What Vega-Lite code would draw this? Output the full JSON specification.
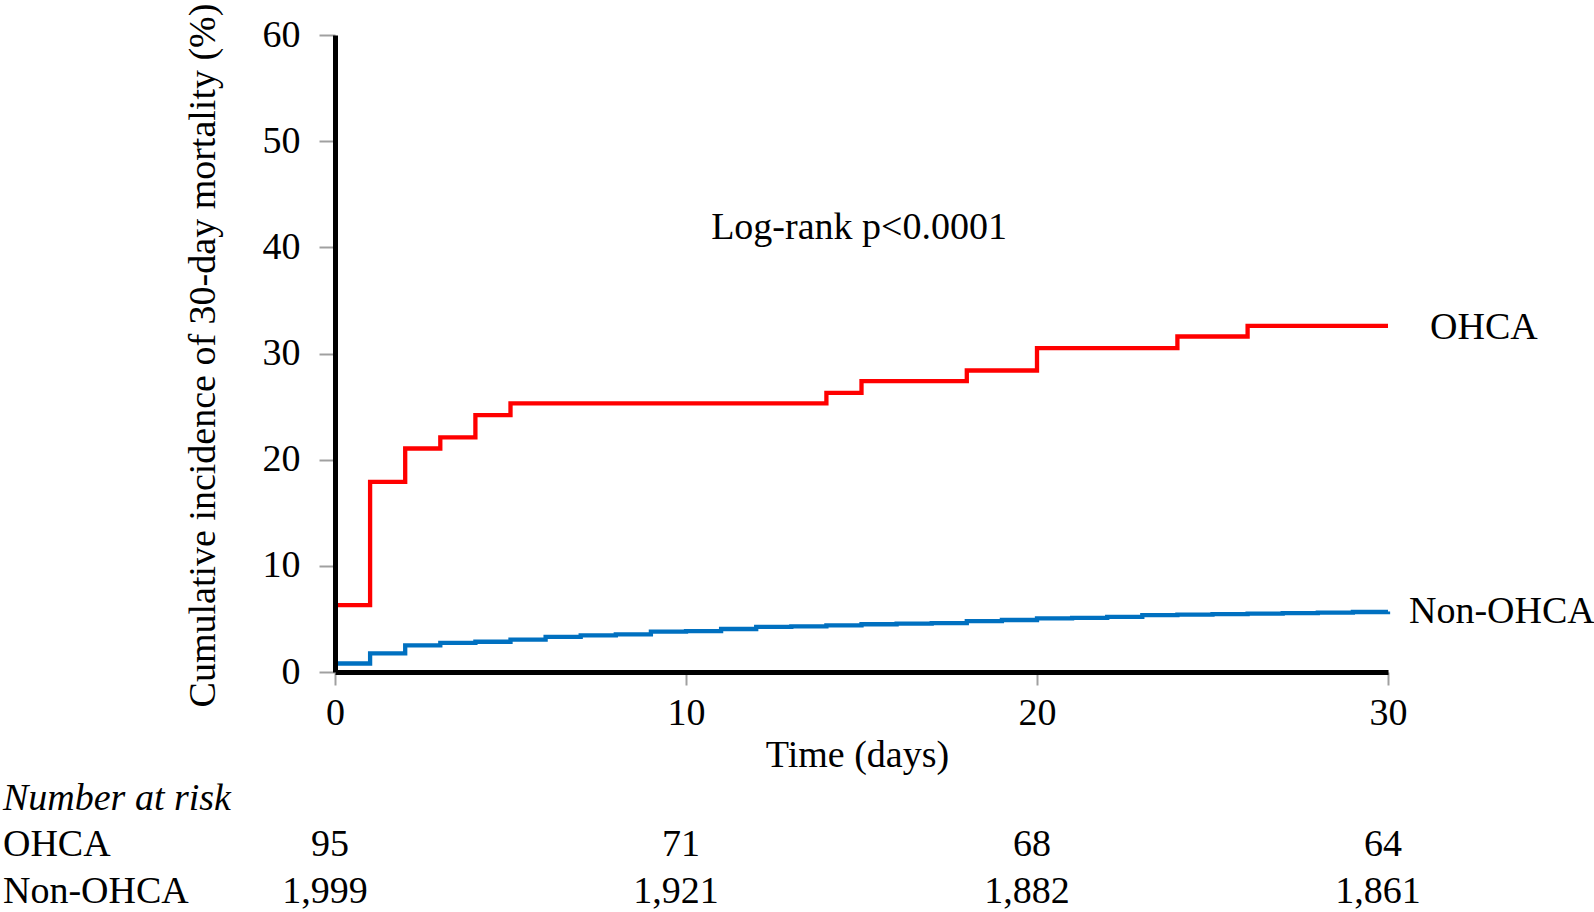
{
  "$schema": "https://vega.github.io/schema/vega-lite/v6.json",
  "width": 1053,
  "height": 637,
  "autosize": {"type": "none"},
  "padding": {"left": 335, "top": 35, "right": 206, "bottom": 240},
  "background": "white",
  "config": {
    "view": {"stroke": null},
    "font": "Liberation Serif",
    "text": {"font": "Liberation Serif", "fontSize": 38, "color": "black"}
  },
  "datasets": {
    "km": [
      {"group": "OHCA", "time": 0, "pct": 6.3},
      {"group": "OHCA", "time": 1, "pct": 17.9},
      {"group": "OHCA", "time": 2, "pct": 21.05},
      {"group": "OHCA", "time": 3, "pct": 22.1},
      {"group": "OHCA", "time": 4, "pct": 24.2},
      {"group": "OHCA", "time": 5, "pct": 25.3},
      {"group": "OHCA", "time": 14, "pct": 26.3},
      {"group": "OHCA", "time": 15, "pct": 27.4},
      {"group": "OHCA", "time": 18, "pct": 28.4},
      {"group": "OHCA", "time": 20, "pct": 30.5},
      {"group": "OHCA", "time": 24, "pct": 31.6},
      {"group": "OHCA", "time": 26, "pct": 32.6},
      {"group": "OHCA", "time": 30, "pct": 32.6},
      {"group": "Non-OHCA", "time": 0, "pct": 0.8},
      {"group": "Non-OHCA", "time": 1, "pct": 1.75},
      {"group": "Non-OHCA", "time": 2, "pct": 2.5},
      {"group": "Non-OHCA", "time": 3, "pct": 2.75},
      {"group": "Non-OHCA", "time": 4, "pct": 2.85},
      {"group": "Non-OHCA", "time": 5, "pct": 3.05},
      {"group": "Non-OHCA", "time": 6, "pct": 3.3},
      {"group": "Non-OHCA", "time": 7, "pct": 3.45},
      {"group": "Non-OHCA", "time": 8, "pct": 3.55},
      {"group": "Non-OHCA", "time": 9, "pct": 3.8},
      {"group": "Non-OHCA", "time": 10, "pct": 3.85},
      {"group": "Non-OHCA", "time": 11, "pct": 4.05},
      {"group": "Non-OHCA", "time": 12, "pct": 4.25},
      {"group": "Non-OHCA", "time": 13, "pct": 4.3},
      {"group": "Non-OHCA", "time": 14, "pct": 4.4},
      {"group": "Non-OHCA", "time": 15, "pct": 4.5},
      {"group": "Non-OHCA", "time": 16, "pct": 4.55},
      {"group": "Non-OHCA", "time": 17, "pct": 4.6},
      {"group": "Non-OHCA", "time": 18, "pct": 4.8},
      {"group": "Non-OHCA", "time": 19, "pct": 4.9},
      {"group": "Non-OHCA", "time": 20, "pct": 5.05},
      {"group": "Non-OHCA", "time": 21, "pct": 5.1},
      {"group": "Non-OHCA", "time": 22, "pct": 5.2},
      {"group": "Non-OHCA", "time": 23, "pct": 5.35},
      {"group": "Non-OHCA", "time": 24, "pct": 5.4},
      {"group": "Non-OHCA", "time": 25, "pct": 5.45},
      {"group": "Non-OHCA", "time": 26, "pct": 5.5},
      {"group": "Non-OHCA", "time": 27, "pct": 5.55},
      {"group": "Non-OHCA", "time": 28, "pct": 5.6},
      {"group": "Non-OHCA", "time": 29, "pct": 5.65},
      {"group": "Non-OHCA", "time": 30, "pct": 5.7}
    ],
    "risk": [
      {"group": "OHCA", "time": 0, "n": "95"},
      {"group": "OHCA", "time": 10, "n": "71"},
      {"group": "OHCA", "time": 20, "n": "68"},
      {"group": "OHCA", "time": 30, "n": "64"},
      {"group": "Non-OHCA", "time": 0, "n": "1,999"},
      {"group": "Non-OHCA", "time": 10, "n": "1,921"},
      {"group": "Non-OHCA", "time": 20, "n": "1,882"},
      {"group": "Non-OHCA", "time": 30, "n": "1,861"}
    ]
  },
  "layer": [
    {
      "data": {"name": "km"},
      "mark": {"type": "line", "interpolate": "step-after", "strokeWidth": 4.3},
      "encoding": {
        "x": {
          "field": "time", "type": "quantitative",
          "scale": {"domain": [0, 30], "nice": false, "zero": false},
          "axis": {
            "title": "Time (days)", "values": [0, 10, 20, 30], "grid": false, "zindex": 1,
            "domainColor": "black", "domainWidth": 5,
            "tickColor": "#a0a0a0", "tickWidth": 2, "tickSize": 13,
            "labelFont": "Liberation Serif", "labelFontSize": 38, "labelColor": "black", "labelPadding": 9,
            "labelFlush": false, "labelOverlap": false,
            "titleFont": "Liberation Serif", "titleFontSize": 38, "titleFontWeight": "normal", "titleColor": "black",
            "titleBaseline": "alphabetic", "titleX": 522, "titleY": 94, "titleAnchor": "middle", "titleAlign": "center"
          }
        },
        "y": {
          "field": "pct", "type": "quantitative",
          "scale": {"domain": [0, 60], "nice": false},
          "axis": {
            "title": "Cumulative incidence of 30-day mortality (%)", "values": [0, 10, 20, 30, 40, 50, 60], "grid": false, "zindex": 1,
            "domainColor": "black", "domainWidth": 5,
            "tickColor": "#a0a0a0", "tickWidth": 2, "tickSize": 16,
            "labelFont": "Liberation Serif", "labelFontSize": 38, "labelColor": "black", "labelPadding": 19,
            "labelFlush": false, "labelOverlap": false,
            "titleFont": "Liberation Serif", "titleFontSize": 38, "titleFontWeight": "normal", "titleColor": "black",
            "titleBaseline": "alphabetic", "titleX": -121, "titleY": 320, "titleAngle": 270, "titleAlign": "center"
          }
        },
        "color": {
          "field": "group", "type": "nominal",
          "scale": {"domain": ["OHCA", "Non-OHCA"], "range": ["#ff0000", "#0070c0"]},
          "legend": null
        }
      }
    },
    {
      "data": {"name": "km"},
      "transform": [{"filter": "datum.time === 30 && datum.group === 'OHCA'"}],
      "mark": {"type": "text", "align": "left", "baseline": "middle", "dx": 42, "dy": 2},
      "encoding": {
        "x": {"field": "time", "type": "quantitative"},
        "y": {"field": "pct", "type": "quantitative"},
        "text": {"field": "group"}
      }
    },
    {
      "data": {"name": "km"},
      "transform": [{"filter": "datum.time === 30 && datum.group === 'Non-OHCA'"}],
      "mark": {"type": "text", "align": "left", "baseline": "middle", "dx": 21, "dy": 1},
      "encoding": {
        "x": {"field": "time", "type": "quantitative"},
        "y": {"field": "pct", "type": "quantitative"},
        "text": {"field": "group"}
      }
    },
    {
      "data": {"values": [{"label": "Log-rank p<0.0001"}]},
      "mark": {"type": "text", "align": "center", "baseline": "middle"},
      "encoding": {
        "x": {"datum": 14.93, "type": "quantitative"},
        "y": {"datum": 41.8, "type": "quantitative"},
        "text": {"field": "label"}
      }
    },
    {
      "data": {"name": "risk"},
      "transform": [{"filter": "datum.group === 'OHCA'"}],
      "mark": {"type": "text", "align": "center", "baseline": "middle", "dx": -5},
      "encoding": {
        "x": {"field": "time", "type": "quantitative"},
        "y": {"datum": -16.3, "type": "quantitative"},
        "text": {"field": "n"}
      }
    },
    {
      "data": {"name": "risk"},
      "transform": [{"filter": "datum.group === 'Non-OHCA'"}],
      "mark": {"type": "text", "align": "center", "baseline": "middle", "dx": -10},
      "encoding": {
        "x": {"field": "time", "type": "quantitative"},
        "y": {"datum": -20.7, "type": "quantitative"},
        "text": {"field": "n"}
      }
    },
    {
      "data": {"values": [{"label": "Number at risk"}]},
      "mark": {"type": "text", "align": "left", "baseline": "middle", "fontStyle": "italic"},
      "encoding": {
        "x": {"datum": -9.46, "type": "quantitative"},
        "y": {"datum": -12.0, "type": "quantitative"},
        "text": {"field": "label"}
      }
    },
    {
      "data": {"values": [{"label": "OHCA"}]},
      "mark": {"type": "text", "align": "left", "baseline": "middle"},
      "encoding": {
        "x": {"datum": -9.46, "type": "quantitative"},
        "y": {"datum": -16.3, "type": "quantitative"},
        "text": {"field": "label"}
      }
    },
    {
      "data": {"values": [{"label": "Non-OHCA"}]},
      "mark": {"type": "text", "align": "left", "baseline": "middle"},
      "encoding": {
        "x": {"datum": -9.46, "type": "quantitative"},
        "y": {"datum": -20.7, "type": "quantitative"},
        "text": {"field": "label"}
      }
    }
  ]
}
